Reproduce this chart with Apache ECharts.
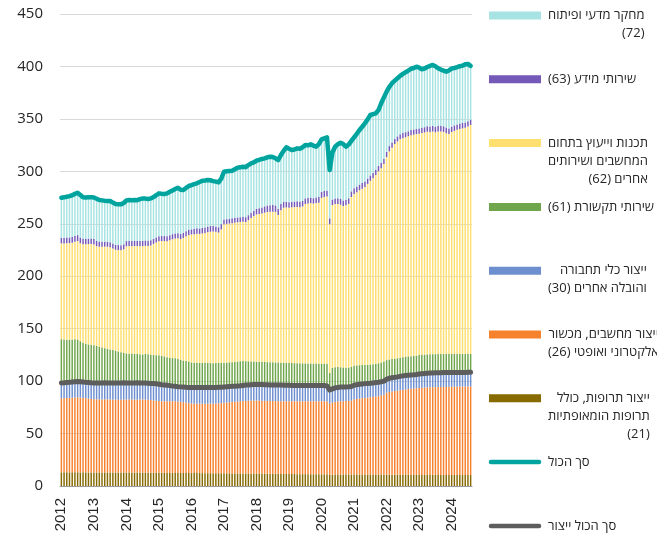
<!DOCTYPE html>
<html>
<head>
<meta charset="utf-8">
<script src="https://cdn.jsdelivr.net/npm/echarts@6/dist/echarts.min.js"></script>
<style>
html, body { margin: 0; padding: 0; background: #fff; }
#chart { width: 657px; height: 538px; }
#chart canvas { direction: rtl; }
</style>
</head>
<body>
<div id="chart"></div>
<script>
// monthly, Jan 2012 - Aug 2024
var firstYear = 2012;

// ייצור תרופות (21)
var pharma = [
  13.0,13.1,13.1,13.0,13.0,13.1,13.1,13.0,13.0,12.9,12.9,12.9,
  12.9,12.9,12.9,12.9,12.9,12.9,12.8,12.8,12.8,12.8,12.8,12.8,
  12.8,12.8,12.8,12.8,12.8,12.8,12.8,12.8,12.7,12.7,12.7,12.7,
  12.6,12.6,12.6,12.5,12.5,12.5,12.5,12.5,12.4,12.4,12.4,12.4,
  12.3,12.3,12.3,12.3,12.3,12.2,12.2,12.2,12.2,12.2,12.2,12.1,
  12.1,12.1,12.1,12.0,12.0,12.0,12.0,12.0,11.9,11.9,11.9,11.9,
  11.8,11.8,11.8,11.7,11.7,11.7,11.6,11.6,11.6,11.5,11.5,11.5,
  11.4,11.4,11.4,11.3,11.3,11.3,11.3,11.3,11.2,11.2,11.2,11.2,
  11.1,11.1,11.1,10.6,10.9,11.0,11.0,11.0,11.0,11.0,11.0,11.0,
  10.9,10.9,10.9,10.9,10.9,10.9,10.9,10.9,10.9,10.9,10.9,10.9,
  10.8,10.8,10.8,10.8,10.8,10.8,10.7,10.7,10.7,10.7,10.7,10.7,
  10.6,10.6,10.6,10.6,10.6,10.6,10.6,10.6,10.6,10.6,10.6,10.6,
  10.5,10.5,10.5,10.5,10.4,10.4,10.4,10.4
];

// ייצור מחשבים, מכשור אלקטרוני ואופטי (26)
var electronics = [
  70.4,70.5,70.7,71.0,71.2,71.3,71.5,71.3,71.0,70.7,70.4,70.1,
  69.9,69.8,69.6,69.5,69.7,69.6,69.6,69.5,69.6,69.4,69.5,69.6,
  69.6,69.7,69.6,69.5,69.4,69.6,69.7,69.5,69.5,69.3,68.9,68.5,
  68.4,68.2,68.2,68.2,68.3,68.4,68.2,68.0,67.9,67.5,67.1,66.6,
  66.4,66.3,66.2,66.3,66.2,66.2,66.3,66.4,66.3,66.4,66.6,66.9,
  67.2,67.5,67.8,68.2,68.4,68.6,68.8,69.0,69.2,69.4,69.6,69.7,
  69.7,69.6,69.5,69.5,69.4,69.3,69.4,69.3,69.3,69.3,69.3,69.3,
  69.4,69.3,69.4,69.6,69.5,69.4,69.5,69.6,69.6,69.6,69.7,69.7,
  69.8,69.7,69.4,68.0,68.6,69.2,69.6,69.8,69.9,70.0,70.1,70.3,
  71.6,72.1,72.5,72.8,73.1,73.4,73.7,74.0,74.4,74.8,75.3,76.1,
  78.2,78.8,79.3,79.7,80.0,80.4,80.9,81.3,81.7,82.0,82.3,82.5,
  82.9,83.1,83.3,83.4,83.5,83.6,83.7,83.8,83.8,83.9,83.9,84.0,
  84.1,84.2,84.2,84.3,84.4,84.4,84.5,84.5
];

// ייצור כלי תחבורה והובלה אחרים (30)
var machinery = [
  14.9,14.8,14.8,14.8,14.9,15.0,15.0,15.1,15.1,15.2,15.3,15.4,
  15.5,15.5,15.8,15.9,15.8,15.8,15.8,15.9,15.9,16.1,16.0,16.0,
  15.9,15.8,15.8,16.0,16.2,15.9,15.7,15.8,15.8,15.8,16.1,16.2,
  16.0,15.8,15.5,15.3,14.9,14.4,14.3,14.2,14.2,14.4,14.6,15.0,
  15.2,15.2,15.3,15.3,15.3,15.4,15.4,15.2,15.4,15.4,15.3,15.2,
  15.1,15.0,14.9,14.8,14.8,14.8,14.8,14.9,15.1,15.1,15.1,15.1,
  15.3,15.4,15.4,15.4,15.4,15.4,15.4,15.4,15.4,15.4,15.3,15.2,
  15.2,15.2,15.1,15.0,15.0,15.1,15.0,14.9,15.1,15.0,15.0,14.9,
  14.9,15.0,14.9,12.9,13.1,13.4,13.4,13.5,13.5,13.5,13.5,13.5,
  13.5,13.6,13.6,13.6,13.6,13.5,13.4,13.4,13.3,13.2,13.1,13.0,
  12.8,13.1,13.2,13.1,13.2,13.3,13.4,13.4,13.3,13.2,13.0,13.1,
  13.2,13.3,13.4,13.5,13.6,13.6,13.6,13.6,13.6,13.6,13.6,13.5,
  13.6,13.5,13.5,13.5,13.5,13.5,13.5,13.6
];

// שירותי תקשורת (61)
var comms = [
  41.7,41.2,40.8,40.7,40.5,40.4,40.1,38.6,37.4,36.8,36.4,36.2,
  35.9,35.3,34.3,33.7,33.0,32.5,32.0,31.4,30.6,30.0,29.2,28.4,
  28.1,27.9,28.1,27.7,27.4,27.2,27.2,27.8,27.6,27.4,27.2,27.3,
  27.6,27.6,27.2,26.8,26.6,26.7,26.9,26.5,25.8,25.3,25.1,24.8,
  23.9,23.7,23.6,23.4,23.6,23.6,23.4,23.4,23.1,23.3,23.3,23.2,
  23.1,23.1,23.1,23.0,23.1,23.2,23.3,23.2,22.8,22.5,22.2,22.0,
  21.8,21.7,21.7,21.6,21.6,21.6,21.5,21.5,21.4,21.4,21.4,21.4,
  21.3,21.3,21.2,21.1,21.2,21.1,21.1,21.0,20.9,20.9,20.8,20.8,
  20.9,20.8,20.8,16.3,19.9,19.6,19.4,18.9,18.6,18.3,18.4,18.7,
  18.6,18.4,18.2,18.0,17.8,17.8,17.8,17.7,17.8,18.1,18.5,18.8,
  18.2,17.9,17.7,17.7,17.8,17.8,17.8,17.8,17.9,17.9,18.0,18.0,
  18.1,18.1,18.0,18.0,17.9,17.9,17.8,17.8,17.8,17.7,17.8,17.8,
  17.7,17.7,17.6,17.5,17.6,17.6,17.6,17.5
];

// תכנות וייעוץ בתחום המחשבים ושירותים אחרים (62)
var software = [
  91.3,91.6,92.0,92.1,92.4,93.0,93.8,93.5,94.1,94.9,95.6,96.1,
  96.1,95.1,95.5,96.0,96.8,97.3,97.4,96.8,96.3,96.6,97.2,98.8,
  102.1,102.6,102.3,102.7,103.1,103.1,103.3,103.1,103.2,104.1,105.9,107.5,
  108.7,109.3,110.1,110.6,112.0,113.2,114.1,115.0,115.1,116.9,118.8,120.4,
  122.0,122.6,123.2,123.0,123.4,123.9,124.7,125.2,125.6,125.0,124.2,127.2,
  132.0,132.2,132.3,132.6,132.7,132.8,132.8,132.9,132.6,134.5,136.8,138.6,
  140.3,140.8,141.4,142.4,143.1,143.4,143.6,143.5,140.6,145.4,147.8,148.2,
  147.9,148.5,148.8,149.0,148.8,149.6,152.0,152.6,152.9,152.5,153.1,153.5,
  158.0,159.0,159.8,141.9,155.4,155.6,155.5,155.0,153.9,154.9,156.0,162.0,
  163.9,165.0,166.8,168.2,169.6,172.4,175.2,177.5,180.1,183.0,185.2,188.2,
  193.5,198.4,201.5,204.7,206.7,208.2,208.7,209.3,209.9,210.7,211.0,211.2,
  211.1,211.4,211.7,212.3,211.9,212.3,211.5,212.1,212.2,211.8,210.5,209.7,
  211.6,212.7,213.9,214.6,215.1,215.6,216.8,218.2
];

// שירותי מידע (63)
var infoServices = [
  5.3,5.2,5.4,5.3,5.5,5.6,5.7,5.4,5.2,5.3,5.2,5.3,
  5.2,5.1,4.9,4.8,4.7,4.8,4.9,4.8,4.7,4.8,4.9,4.8,
  5.0,5.1,5.0,5.1,5.0,4.9,5.0,5.1,5.0,4.9,4.8,4.8,
  4.9,4.8,4.7,4.8,4.8,4.9,4.8,4.7,4.8,4.9,4.8,4.8,
  4.9,5.0,5.1,5.2,5.3,5.2,5.3,5.4,5.3,5.2,5.1,5.0,
  4.6,4.5,4.5,4.6,4.5,4.6,4.5,4.6,4.7,4.8,5.0,5.2,
  5.4,5.6,5.8,6.0,6.2,6.3,6.4,6.2,6.0,5.8,5.6,5.4,
  5.3,5.4,5.3,5.4,5.3,5.2,5.3,5.4,5.3,5.2,5.3,5.4,
  5.6,5.7,5.6,5.5,5.2,5.3,5.4,5.5,5.3,5.2,5.3,5.4,
  5.3,5.2,5.3,5.4,5.3,5.2,5.1,5.0,5.1,5.2,5.1,5.0,
  5.0,5.1,5.0,4.9,4.8,4.9,5.0,4.8,4.7,4.8,4.9,4.8,
  4.9,5.0,5.1,5.2,5.3,5.4,5.3,5.4,5.5,5.4,5.3,5.2,
  5.1,5.2,5.0,5.1,5.2,5.0,4.9,4.8
];

// מחקר מדעי ופיתוח (72)
var rnd = [
  38.2,38.8,39.0,39.5,39.7,40.1,40.4,40.6,39.5,39.2,39.4,39.4,
  39.5,40.1,39.6,39.5,39.1,38.9,39.2,39.0,38.9,38.8,38.9,39.4,
  38.7,38.7,38.8,38.9,38.6,40.0,40.5,39.9,39.8,40.0,39.9,40.2,
  40.8,40.3,40.0,40.8,41.4,41.7,42.4,43.5,42.3,40.8,41.4,42.0,
  42.1,42.7,42.9,44.3,44.9,44.7,44.4,43.7,42.8,42.7,42.8,43.4,
  45.5,45.6,45.6,45.4,46.5,47.4,47.6,47.8,47.7,47.8,47.0,46.1,
  45.8,46.1,46.2,45.8,46.0,46.2,45.7,44.9,46.5,46.7,48.6,51.9,
  51.0,49.2,49.6,50.5,50.4,51.3,50.9,50.0,50.7,50.1,48.4,50.5,
  50.2,50.2,50.8,46.0,44.9,49.4,51.5,53.6,53.8,50.6,51.2,48.1,
  48.6,50.6,52.1,53.6,55.5,56.3,57.6,56.0,53.7,53.3,56.8,58.5,
  57.5,56.4,56.5,55.6,55.4,55.6,56.4,57.2,57.8,58.5,58.6,59.5,
  58.0,55.8,55.9,56.5,57.8,58.0,57.7,55.0,53.5,53.0,53.3,55.4,
  55.4,54.7,54.6,54.7,54.6,55.5,54.7,51.5
];

var yTicks = { min: 0, max: 450, step: 50 };

var months = [];
for (var i = 0; i < pharma.length; i++) {
  var y = firstYear + Math.floor(i / 12);
  var m = (i % 12) + 1;
  months.push(y + '-' + (m < 10 ? '0' + m : m));
}

function sumOf(arrs) {
  return arrs[0].map(function (v, i) {
    var s = 0;
    arrs.forEach(function (a) { s += a[i]; });
    return Math.round(s * 10) / 10;
  });
}
var manufTotal = sumOf([pharma, electronics, machinery]);
var total = sumOf([pharma, electronics, machinery, comms, software, infoServices, rnd]);

var TXT = '#262626';
var HEB_FONT = '"Open Sans", "Liberation Sans", "DejaVu Sans", sans-serif';

var barSeries = [
  { name: 'ייצור תרופות, כולל תרופות הומאופתיות (21)', data: pharma, color: '#876a00' },
  { name: 'ייצור מחשבים, מכשור אלקטרוני ואופטי (26)', data: electronics, color: '#f7822e' },
  { name: 'ייצור כלי תחבורה והובלה אחרים (30)', data: machinery, color: '#6d8fd0' },
  { name: 'שירותי תקשורת (61)', data: comms, color: '#6fa64b' },
  { name: 'תכנות וייעוץ בתחום המחשבים ושירותים אחרים (62)', data: software, color: '#ffdf70' },
  { name: 'שירותי מידע (63)', data: infoServices, color: '#7559b9' },
  { name: 'מחקר מדעי ופיתוח (72)', data: rnd, color: '#a7e3e2' }
];

var series = barSeries.map(function (s) {
  return {
    name: s.name, type: 'bar', stack: 'all', data: s.data,
    barCategoryGap: '46%',
    itemStyle: { color: s.color },
    emphasis: { disabled: true }
  };
});
series.push({
  name: 'סך הכול', type: 'line', data: total, z: 4,
  symbol: 'none', lineStyle: { color: '#00a49e', width: 4.5, cap: 'round', join: 'round' }
});
series.push({
  name: 'סך הכול ייצור', type: 'line', data: manufTotal, z: 4,
  symbol: 'none', lineStyle: { color: '#5d5d5d', width: 5, cap: 'round', join: 'round' }
});

// legend (right side), top to bottom
var legendItems = [
  { lines: ['מחקר מדעי ופיתוח', '(72)'], color: '#a7e3e2' },
  { lines: ['שירותי מידע (63)'], color: '#7559b9' },
  { lines: ['תכנות וייעוץ בתחום', 'המחשבים ושירותים', 'אחרים (62)'], color: '#ffdf70' },
  { lines: ['שירותי תקשורת (61)'], color: '#6fa64b' },
  { lines: ['ייצור כלי תחבורה', 'והובלה אחרים (30)'], color: '#6d8fd0' },
  { lines: ['ייצור מחשבים, מכשור', 'אלקטרוני ואופטי (26)'], color: '#f7822e' },
  { lines: ['ייצור תרופות, כולל', 'תרופות הומאופתיות', '(21)'], color: '#876a00' },
  { lines: ['סך הכול'], color: '#00a49e', line: true },
  { lines: ['סך הכול ייצור'], color: '#5d5d5d', line: true }
];
var graphics = [];
legendItems.forEach(function (it, k) {
  var yc = 15.5 + k * 63.8;
  if (it.line) {
    graphics.push({ type: 'line', shape: { x1: 491, y1: yc, x2: 539, y2: yc },
      style: { stroke: it.color, lineWidth: 4.5, lineCap: 'round' } });
  } else {
    graphics.push({ type: 'rect', shape: { x: 489, y: yc - 4, width: 52, height: 8 },
      style: { fill: it.color } });
  }
  graphics.push({
    type: 'text', x: 548, y: yc - 9,
    style: {
      text: it.lines.map(function (l) { return '{r|' + l + '}'; }).join('\n'),
      align: 'left', verticalAlign: 'top',
      rich: { r: { align: 'right', fontSize: 13, lineHeight: 18, fontFamily: HEB_FONT, fill: TXT } }
    }
  });
});

var chart = echarts.init(document.getElementById('chart'));
chart.setOption({
  animation: false,
  backgroundColor: '#fff',
  grid: { left: 60, right: 185, top: 14, bottom: 52, containLabel: false },
  xAxis: {
    type: 'category', data: months, boundaryGap: true,
    axisTick: { show: false },
    axisLine: { lineStyle: { color: '#9a9a9a', width: 1 } },
    axisLabel: {
      interval: 11, rotate: 90, margin: 12, fontSize: 15, color: TXT,
      fontFamily: '"Liberation Sans", Arial, sans-serif',
      formatter: function (v) { return v.slice(0, 4); }
    }
  },
  yAxis: {
    type: 'value', min: yTicks.min, max: yTicks.max, interval: yTicks.step,
    axisLine: { show: false }, axisTick: { show: false },
    axisLabel: { fontSize: 15, color: TXT, margin: 17, fontFamily: '"Open Sans", sans-serif' },
    splitLine: { lineStyle: { color: '#d9d9d9', width: 1 } }
  },
  series: series,
  graphic: graphics
});
</script>
</body>
</html>
